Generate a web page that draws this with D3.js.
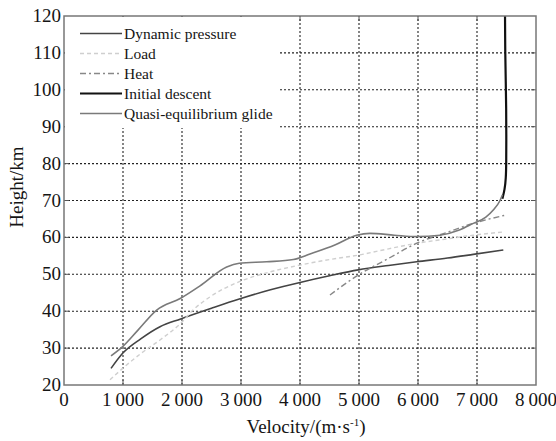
<!DOCTYPE html>
<html><head><meta charset="utf-8">
<script src="https://cdn.jsdelivr.net/npm/d3@7"></script>
<style>body{margin:0;background:#fff}svg{display:block}text{font-family:"Liberation Serif","Times New Roman",serif;fill:#151515}</style>
</head><body><svg id="c" width="556" height="441"></svg>
<script>
const xTicks=[0,1000,2000,3000,4000,5000,6000,7000,8000];
const yTicks=[20,30,40,50,60,70,80,90,100,110,120];
const dynamicPressure=[[797,24.5],[994,28.6],[1300,32.5],[1627,35.8],[1977,37.9],[2500,40.8],[2971,43.3],[3500,45.8],[4000,47.8],[4500,49.6],[4988,51.2],[5500,52.4],[5977,53.4],[6500,54.4],[6937,55.4],[7446,56.6]];
const load=[[780,21.4],[994,24.5],[1300,28.5],[1627,32.2],[1977,36.7],[2200,40.5],[2475,43.9],[2971,48],[3435,50.4],[4000,52.5],[4500,54],[4988,55.2],[5500,56.9],[5977,58.4],[6500,59.6],[6937,60.6],[7475,61.5]];
const heat=[[4508,44.4],[4988,49.8],[5500,54.3],[5977,58.4],[6500,61.4],[6937,63.8],[7475,66]];
const initialDescent=[[7475,120],[7478,110],[7488,102],[7495,95],[7497,88],[7496,80],[7490,76],[7470,73],[7430,70.5]];
const quasiGlide=[[797,27.9],[994,30.4],[1250,34.8],[1571,40.3],[1977,43.5],[2300,46.8],[2757,52],[2971,53],[3435,53.4],[3887,54],[4169,55.5],[4600,58],[4960,60.6],[5186,61.1],[5600,60.6],[5977,60.2],[6373,60.6],[6700,62],[6937,63.8],[7150,65.5],[7276,67.4],[7390,70],[7430,71.5]];
const legendItems=[
 {name:"Dynamic pressure",color:"#444",w:1.6,dash:null},
 {name:"Load",color:"#cfcfcf",w:1.4,dash:"4,3"},
 {name:"Heat",color:"#888",w:1.4,dash:"6,3,2,3"},
 {name:"Initial descent",color:"#111",w:2.2,dash:null},
 {name:"Quasi-equilibrium glide",color:"#7a7a7a",w:1.6,dash:null}];
const seriesData=[dynamicPressure,load,heat,initialDescent,quasiGlide];

const svg=d3.select("#c");
const L=64,R=536,T=16,B=385;
const x=d3.scaleLinear().domain([0,8000]).range([L,R]);
const y=d3.scaleLinear().domain([20,120]).range([B,T]);

const legBox={x0:65,y0:17,x1:278,y1:128};
const g=svg.append("g");
const grid=g.append("g").attr("stroke","#222").attr("stroke-width",1.1).attr("stroke-dasharray","2,2");
xTicks.slice(1,-1).forEach(v=>{grid.append("line").attr("x1",x(v)).attr("x2",x(v)).attr("y1",B).attr("y2",T);});
yTicks.slice(1,-1).forEach(v=>{grid.append("line").attr("x1",L).attr("x2",R).attr("y1",y(v)).attr("y2",y(v));});

const tk=g.append("g").attr("stroke","#555").attr("stroke-width",1);
xTicks.slice(1,-1).forEach(v=>{
 tk.append("line").attr("x1",x(v)).attr("x2",x(v)).attr("y1",B).attr("y2",B-5);
 tk.append("line").attr("x1",x(v)).attr("x2",x(v)).attr("y1",T).attr("y2",T+5);});
yTicks.slice(1,-1).forEach(v=>{
 tk.append("line").attr("x1",L).attr("x2",L+5).attr("y1",y(v)).attr("y2",y(v));
 tk.append("line").attr("x1",R).attr("x2",R-5).attr("y1",y(v)).attr("y2",y(v));});

const line=d3.line().x(d=>x(d[0])).y(d=>y(d[1])).curve(d3.curveMonotoneX);
const lineY=d3.line().x(d=>x(d[0])).y(d=>y(d[1])).curve(d3.curveBasis);
seriesData.forEach((s,i)=>{
 const it=legendItems[i];
 g.append("path").attr("d",(i===3?lineY:line)(s)).attr("fill","none").attr("stroke",it.color)
  .attr("stroke-width",it.w).attr("stroke-dasharray",it.dash);
});

g.append("rect").attr("x",legBox.x0).attr("y",legBox.y0).attr("width",legBox.x1-legBox.x0).attr("height",legBox.y1-legBox.y0).attr("fill","#fff");
legendItems.forEach((it,i)=>{
 const yy=33.5+i*20;
 g.append("line").attr("x1",80).attr("x2",122).attr("y1",yy).attr("y2",yy).attr("stroke",it.color).attr("stroke-width",it.w).attr("stroke-dasharray",it.dash);
 g.append("text").attr("x",124).attr("y",yy+5).attr("font-size",15.5).text(it.name);
});

g.append("rect").attr("x",L).attr("y",T).attr("width",R-L).attr("height",B-T).attr("fill","none").attr("stroke","#777").attr("stroke-width",1.5);

const fmt=v=>v>=1000?String(Math.floor(v/1000))+"\u2009"+"000":String(v);
xTicks.forEach(v=>{g.append("text").attr("x",x(v)).attr("y",406).attr("text-anchor","middle").attr("font-size",19).text(fmt(v));});
yTicks.forEach(v=>{g.append("text").attr("x",61).attr("y",y(v)+6).attr("text-anchor","end").attr("font-size",19).text(v);});

const xt=g.append("text").attr("x",306).attr("y",433).attr("text-anchor","middle").attr("font-size",19);
xt.append("tspan").text("Velocity/(m\u00b7s");
xt.append("tspan").attr("font-size",11).attr("dy",-7).text("-1");
xt.append("tspan").attr("dy",7).text(")");
g.append("text").attr("transform","translate(23,187) rotate(-90)").attr("text-anchor","middle").attr("font-size",19).text("Height/km");
</script></body></html>
